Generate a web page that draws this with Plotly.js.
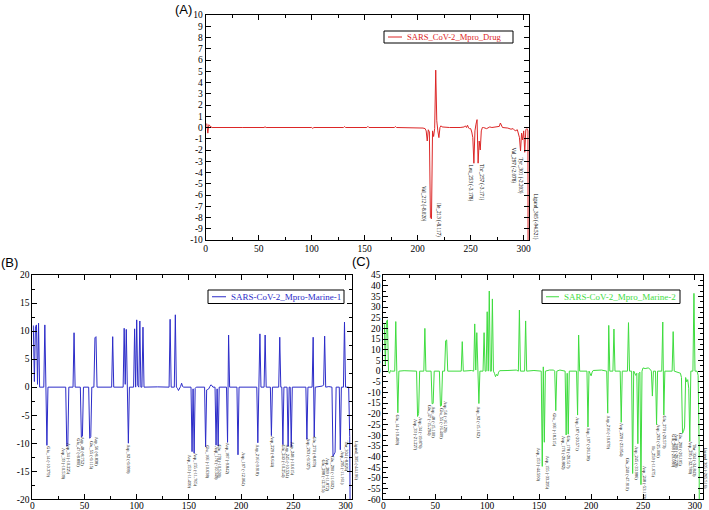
<!DOCTYPE html>
<html><head><meta charset="utf-8">
<script src="https://cdn.plot.ly/plotly-3.0.1.min.js"></script>
<style>html,body{margin:0;padding:0;background:#fff}#chart{width:709px;height:510px}</style>
</head><body><div id="chart"></div>
<script>
// ---------------- DATA ----------------
// Panel A: SARS_CoV-2_Mpro_Drug (residue, energy kcal/mol)
const resA = [1,2,3,4,5,6,20,35,55,56,57,75,76,77,100,101,102,130,131,132,152,153,154,178,179,180,200,205,207,208,209,210,211,212,213,214,215,216,217,218,219,220,221,222,223,230,240,244,245,246,247,248,249,250,251,252,253,254,255,256,257,258,259,260,261,262,265,268,270,275,277,278,279,280,285,288,290,292,294,295,296,297,298,299,300,301,302,303,304,305];
const dGA  = [0.35,-0.5,0.25,0.1,0.05,0.0,0.02,0.0,0.0,0.06,0.0,0.0,0.05,0.0,0.0,-0.08,0.0,0.0,0.08,0.0,0.0,0.1,0.0,0.0,0.08,0.0,0.0,-0.05,-0.1,-0.3,-1.2,-0.2,-0.4,-8.02,-8.117,-0.3,-0.8,-0.1,5.1,0.6,-0.3,-0.9,0.0,0.15,0.05,0.0,0.0,0.05,0.15,0.0,0.2,-0.05,-0.1,-0.1,-0.4,-0.9,-3.178,-0.3,0.3,0.7,-3.171,-1.2,-2.0,-0.3,0.0,0.0,-0.1,0.05,0.0,0.05,0.1,0.4,0.1,0.0,-0.05,-0.15,-0.1,-0.3,-0.2,-0.5,-0.9,-2.078,-0.5,-1.1,-0.3,-2.203,-0.2,-0.1,-0.3,-94.521];
const labelNamesA = ["Val_212","Ile_213","Leu_253","Thr_257","Val_297","Tyr_301","Ligand_305"];
const labelValsA  = [-8.020,-8.117,-3.178,-3.171,-2.078,-2.203,-94.521];

// Panel B: SARS-CoV-2_Mpro-Marine-1
const resB = [1,2,3,4,5,6,7,11,12,13,14,15,32,33,34,35,39,40,41,46,47,48,49,54,55,56,57,59,60,61,62,76,77,78,87,88,89,90,91,92,93,97,98,99,100,101,102,103,104,105,106,107,120,131,132,133,136,137,138,139,140,141,142,143,144,145,152,153,154,155,156,157,165,166,167,168,169,170,171,172,173,175,176,177,178,179,186,187,188,189,196,197,198,215,216,217,218,219,222,223,224,228,229,230,236,237,238,239,240,241,244,245,246,247,248,249,262,263,264,268,269,270,271,278,279,280,281,284,287,288,289,290,291,294,295,296,298,299,300,303,304,305];
const dGB  = [11.0,1.0,10.8,11.1,0.5,11.4,0.0,0.0,11.1,0.0,-10.379,0.0,0.0,-10.539,-10.225,0.0,0.0,9.7,0.0,0.0,-8.89,-8.752,0.0,0.0,-9.115,-8.838,0.0,0.0,8.8,9.0,0.0,0.0,9.0,0.0,0.0,10.5,0.5,10.3,0.0,-9.999,0.0,0.0,10.4,0.0,12.0,0.3,0.0,11.8,0.0,0.0,10.7,0.0,0.05,0.0,12.1,0.0,0.0,12.9,0.0,-0.2,-0.6,-0.3,0.1,0.7,0.1,0.0,0.0,-11.499,-0.3,-11.765,-0.2,0.0,0.0,-10.638,-0.5,-0.4,-0.3,0.1,0.4,0.3,0.0,0.0,-10.349,-0.3,-10.5,0.0,0.0,-9.842,9.3,0.0,0.0,-12.064,0.0,0.0,-9.918,0.0,9.5,0.0,0.0,9.3,0.0,0.0,-8.644,0.0,0.0,8.9,0.0,0.0,-10.254,0.0,0.0,-10.534,0.0,0.0,-10.615,0.0,0.0,-9.327,0.0,0.0,8.9,-8.879,0.0,0.2,0.4,9.1,0.0,0.1,0.0,-12.315,-11.872,-11.602,0.0,0.0,-11.161,0.0,0.0,11.6,0.0,0.0,-8.826,-44.196];
const labelNamesB = ["Glu_14","Asp_33","Asp_34","Glu_47","Asp_48","Glu_55","Asp_56","Asp_92","Asp_153","Asp_155","Glu_166","Asp_176","Glu_178","Asp_187","Asp_197","Asp_216","Asp_229","Glu_240","Asp_245","Asp_248","Asp_263","Glu_270","Glu_288","Asp_289","Glu_290","Asp_295","Thr_304","Ligand_305"];
const labelValsB  = [-10.379,-10.539,-10.225,-8.890,-8.752,-9.115,-8.838,-9.999,-11.499,-11.765,-10.638,-10.349,-10.500,-9.842,-12.064,-9.918,-8.644,-10.254,-10.534,-10.615,-9.327,-8.879,-12.315,-11.872,-11.602,-11.161,-8.826,-44.196];

// Panel C: SARS-CoV-2_Mpro_Marine-2
const resC = [1,2,3,4,5,6,7,8,11,12,13,14,15,20,32,33,34,35,39,40,41,46,47,48,49,54,55,56,57,59,60,61,62,75,76,77,85,87,88,89,90,91,92,93,96,97,98,99,100,101,102,103,104,105,106,107,108,109,110,111,112,120,128,130,131,132,136,137,138,145,152,153,154,155,156,160,164,165,166,167,170,175,176,177,178,179,186,187,188,189,196,197,198,199,200,201,202,210,215,216,217,218,221,222,223,228,229,230,235,236,237,239,240,241,242,243,244,245,246,247,248,249,250,252,255,257,258,259,260,262,263,264,268,269,270,271,278,279,280,286,287,288,289,290,291,292,293,294,295,296,298,299,300,302,303,304,305];
const dGC  = [22.0,3.0,23.0,24.0,0.0,-1.0,0.3,0.0,0.0,23.2,0.0,-19.489,0.0,0.2,0.0,-21.227,-19.876,0.0,0.0,20.0,0.0,0.0,-15.294,-15.1,0.0,0.0,-16.409,-16.129,0.0,0.0,14.2,14.6,0.0,0.0,13.8,0.0,0.3,0.0,22.1,0.5,18.0,0.0,-15.162,0.0,0.0,18.0,0.0,0.0,27.8,0.0,37.5,0.0,0.0,33.8,0.0,-1.0,-2.6,-1.5,-2.2,-0.5,0.2,0.3,0.5,0.0,28.6,0.0,0.0,23.5,0.0,0.3,0.0,-44.59,2.0,-33.295,0.0,0.5,0.5,0.0,-18.515,0.0,0.5,0.0,-29.882,-1.0,-29.517,0.0,0.0,-20.571,16.9,0.0,0.0,-26.138,0.0,-1.0,-2.2,-0.5,0.3,0.5,0.0,-19.679,21.4,0.0,0.0,19.7,0.0,0.0,-23.954,0.0,0.0,22.7,0.0,0.0,-47.91,0.0,-1.0,-2.0,-1.0,-33.986,-1.0,-0.5,-53.133,0.0,1.5,1.2,1.5,0.8,0.0,-11.675,0.0,0.0,-25.006,0.0,0.0,23.0,-20.573,0.0,0.0,18.5,0.0,-1.0,-3.0,-29.089,-28.228,-26.195,-3.0,-5.0,-4.0,-8.0,-32.78,0.0,0.0,36.4,0.0,0.0,-2.0,-34.843,-265.516];
const labelNamesC = ["Glu_14","Asp_33","Asp_34","Glu_47","Asp_48","Glu_55","Asp_56","Asp_92","Asp_153","Asp_155","Glu_166","Asp_176","Glu_178","Asp_187","Asp_197","Asp_216","Asp_229","Glu_240","Asp_245","Asp_248","Ile_259","Asp_263","Glu_270","Glu_288","Asp_289","Glu_290","Asp_295","Thr_304","Ligand_305"];
const labelValsC  = [-19.489,-21.227,-19.876,-15.294,-15.100,-16.409,-16.129,-15.162,-44.590,-33.295,-18.515,-29.882,-29.517,-20.571,-26.138,-19.679,-23.954,-47.910,-33.986,-53.133,-11.675,-25.006,-20.573,-29.089,-28.228,-26.195,-32.780,-34.843,-265.516];

// Tick labels
const xTicks = [0,50,100,150,200,250,300];
const yTicksA = [-10,-9,-8,-7,-6,-5,-4,-3,-2,-1,0,1,2,3,4,5,6,7,8,9,10];
const yTicksB = [-20,-15,-10,-5,0,5,10,15,20];
const yTicksC = [-60,-55,-50,-45,-40,-35,-30,-25,-20,-15,-10,-5,0,5,10,15,20,25,30,35,40,45];
const seriesNames = ["SARS_CoV-2_Mpro_Drug","SARS-CoV-2_Mpro-Marine-1","SARS-CoV-2_Mpro_Marine-2"];

// ---------------- LAYOUT (label placement: [x, yTop, xshift px]) ----------------
const placeA = [[205,-5.1],[219,-6.6],[250.7,-3.2],[260,-3.2],[290,-1.7],[296.4,-2.6],[305,-5.8,6]];
const placeB = [[14.8,-10.4],[30.4,-10.7],[35.2,-9.8],[44.1,-8.9],[48.3,-8.6],[56.2,-9.5],[61.7,-8.6],[92.4,-10.0],[150.6,-11.8],[156.5,-11.5],[167,-10.2],[175.7,-10.3],[179.1,-10.0],[187.7,-9.8],[202.1,-11.5],[215.9,-10.0],[229.9,-8.6],[240.4,-10.0],[244.6,-10.0],[249,-9.6],[264.4,-9.0],[270.1,-8.6],[278.7,-12.7],[283,-12.4],[287.1,-12.0],[296.4,-11.2],[301,-9.4],[306,-9.5,4]];
const placeC = [[13.5,-19.7],[30.8,-22.1],[35.6,-21.3],[44.7,-15.4],[48.5,-15.9],[55.8,-16.7],[59.7,-13.8],[91.8,-15.9],[148.9,-35.4],[158.8,-39.3],[165.3,-19.0],[173.9,-29.9],[178.7,-29.9],[186.7,-21.3],[197.3,-26.0],[216.6,-20.5],[229.4,-23.7],[235.8,-40.0],[243.9,-34.6],[251.9,-44.0],[259.9,-34.6],[265.3,-24.4],[271.1,-20.5],[279.1,-29.0],[282.7,-29.0],[286.2,-28.5],[295.2,-32.2],[299.0,-33.8],[308,-35.4,2]];

const W = 709, H = 510;
const fx = p => p / W, fy = p => 1 - p / H;
const colors = ['#dc2626', '#2c2cc8', '#3fdc3f'];
const serif = 'Liberation Serif';

const traces = [
  {x: resA, y: dGA, xaxis: 'x', yaxis: 'y'},
  {x: resB, y: dGB, xaxis: 'x2', yaxis: 'y2'},
  {x: resC, y: dGC, xaxis: 'x3', yaxis: 'y3'}
].map((t, i) => Object.assign(t, {type: 'scatter', mode: 'lines', name: seriesNames[i],
  line: {color: colors[i], width: 1}, showlegend: false, hoverinfo: 'skip'}));

function axBase() {
  return {showline: true, linecolor: '#000', linewidth: 1, mirror: 'allticks',
    ticks: 'inside', ticklen: 5, tickwidth: 1, tickcolor: '#000',
    showgrid: false, zeroline: false, fixedrange: true,
    tickfont: {family: serif, size: 9.5, color: '#000'}};
}
function xAx(domain, range, anchor, standoff) {
  return Object.assign(axBase(), {domain, range, anchor, tickmode: 'array', tickvals: xTicks,
    ticktext: xTicks.map(String), ticklabelstandoff: standoff || 0,
    minor: {tickmode: 'linear', tick0: 0, dtick: 25, ticklen: 3, ticks: 'inside', tickcolor: '#000', tickwidth: 1}});
}
function yAx(domain, range, anchor, vals, minorDtick) {
  const a = Object.assign(axBase(), {domain, range, anchor, tickmode: 'array', tickvals: vals,
    ticktext: vals.map(String)});
  if (minorDtick) a.minor = {tickmode: 'linear', tick0: 0, dtick: minorDtick, ticklen: 3, ticks: 'inside', tickcolor: '#000', tickwidth: 1};
  return a;
}

function labelAnns(names, vals, place, xr, yr, size) {
  return names.map((n, i) => ({xref: xr, yref: yr, x: place[i][0], y: place[i][1],
    xshift: place[i][2] || 0, text: n + ' (' + vals[i].toFixed(3) + ')', textangle: 90,
    showarrow: false, xanchor: 'center', yanchor: 'top', borderpad: 0,
    font: {family: serif, size: size, color: '#000'}}));
}

// legend boxes [x0,x1,y0,y1,lineX0,lineX1,textX,fontSize]
const legBoxes = [[384, 513, 31, 43, 388, 402, 406, 8.6], [208, 344, 290, 303.5, 212, 226, 230, 9], [542, 680, 290, 303.5, 546, 559, 563, 9]];
const shapes = [], legAnns = [];
legBoxes.forEach((b, i) => {
  const yc = (b[2] + b[3]) / 2;
  shapes.push({type: 'rect', xref: 'paper', yref: 'paper', x0: fx(b[0]), x1: fx(b[1]), y0: fy(b[3]), y1: fy(b[2]),
    line: {color: '#000', width: 1}, fillcolor: '#fff', layer: 'above'});
  shapes.push({type: 'line', xref: 'paper', yref: 'paper', x0: fx(b[4]), x1: fx(b[5]), y0: fy(yc), y1: fy(yc),
    line: {color: colors[i], width: 1}, layer: 'above'});
  legAnns.push({xref: 'paper', yref: 'paper', x: fx(b[6]), y: fy(yc), xanchor: 'left', yanchor: 'middle',
    text: seriesNames[i], showarrow: false, borderpad: 0, font: {family: serif, size: b[7], color: colors[i]}});
});

const panelAnns = [['(A)', 183, 9], ['(B)', 9, 262], ['(C)', 361, 261]].map(p => ({
  xref: 'paper', yref: 'paper', x: fx(p[1]), y: fy(p[2]), xanchor: 'center', yanchor: 'middle',
  text: p[0], showarrow: false, font: {family: 'Liberation Sans', size: 13, color: '#000'}}));

const layout = {
  width: W, height: H, margin: {l: 0, r: 0, t: 0, b: 0},
  paper_bgcolor: '#fff', plot_bgcolor: '#fff', showlegend: false,
  xaxis: xAx([fx(205.7), fx(529)], [0, 305], 'y'),
  yaxis: yAx([fy(240), fy(15)], [-10, 10], 'x', yTicksA, null),
  xaxis2: xAx([fx(32.3), fx(351.8)], [0, 306], 'y2', -3),
  yaxis2: yAx([fy(499.3), fy(275)], [-20, 20], 'x2', yTicksB, 2.5),
  xaxis3: xAx([fx(383.3), fx(703.3)], [0, 308], 'y3', -3),
  yaxis3: yAx([fy(499.3), fy(275)], [-60, 45], 'x3', yTicksC, 2.5),
  shapes: shapes,
  annotations: [].concat(
    labelAnns(labelNamesA, labelValsA, placeA, 'x', 'y', 5.2),
    labelAnns(labelNamesB, labelValsB, placeB, 'x2', 'y2', 4.4),
    labelAnns(labelNamesC, labelValsC, placeC, 'x3', 'y3', 4.4),
    legAnns, panelAnns)
};

Plotly.newPlot('chart', traces, layout, {staticPlot: true, displayModeBar: false});
</script></body></html>
